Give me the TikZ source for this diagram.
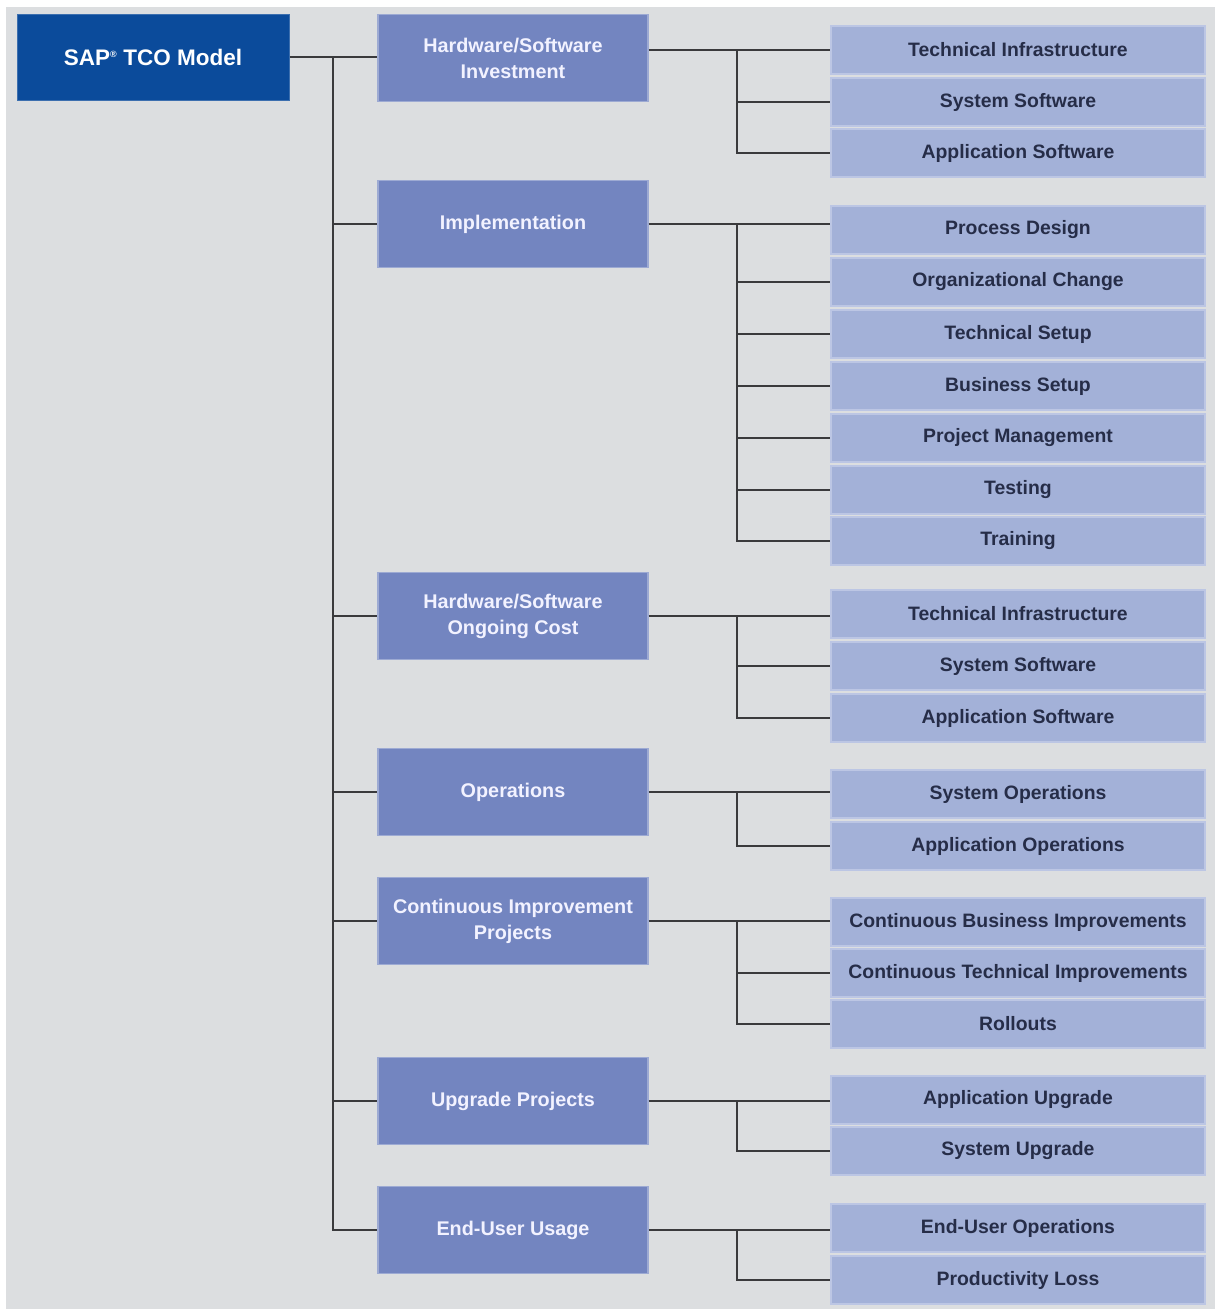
\documentclass[tikz,border=0pt]{standalone}
\usepackage{fontspec}
\setmainfont{Liberation Sans}
\begin{document}
\begin{tikzpicture}[x=1pt,y=-1pt,
  sapbox/.style={fill=sapblue, draw=sapblue!80!white, line width=1pt, minimum width=272pt, minimum height=86pt, inner sep=0pt,
    text=white, font=\fontsize{22.5}{26}\selectfont\bfseries},
  lonebox/.style={fill=lone, draw=lone!70!white, line width=1.2pt, minimum width=270pt, minimum height=87pt, inner sep=0pt,
    text=white!95!blue, align=center, font=\fontsize{19.8}{26}\selectfont\bfseries},
  subbox/.style={fill=subc, draw=subedge, line width=1.5pt, minimum width=374pt, minimum height=48pt, inner sep=0pt,
    text=subtext, font=\fontsize{19.4}{22}\selectfont\bfseries},
  conn/.style={draw=linec, line width=2.4pt}
]
\definecolor{sapblue}{HTML}{0B4B9B}
\definecolor{lone}{HTML}{7385C0}
\definecolor{subc}{HTML}{A3B1D8}
\definecolor{subedge}{HTML}{BCC6E4}
\definecolor{subtext}{HTML}{262D48}
\definecolor{bgc}{HTML}{DCDEE0}
\definecolor{linec}{HTML}{3A3A3C}

\fill[white] (0,0) rectangle (1215,1309);
\fill[bgc] (6,7) rectangle (1215,1309);
\useasboundingbox (0,0) rectangle (1215,1309);

% root
\node[sapbox] (sap) at (153,57) {SAP\textsuperscript{\fontsize{9}{9}\selectfont\textregistered} TCO Model};

% level one
\node[lonebox] (la) at (513,58)  {Hardware/Software\\Investment};
\node[lonebox] (lb) at (513,224) {Implementation};
\node[lonebox] (lc) at (513,616) {Hardware/Software\\Ongoing Cost};
\node[lonebox] (ld) at (513,792) {Operations};
\node[lonebox] (le) at (513,921) {Continuous Improvement\\Projects};
\node[lonebox] (lf) at (513,1101) {Upgrade Projects};
\node[lonebox] (lg) at (513,1230) {End-User Usage};

% sub boxes
\node[subbox] (a1) at (1018,50)  {Technical Infrastructure};
\node[subbox] (a2) at (1018,102) {System Software};
\node[subbox] (a3) at (1018,153) {Application Software};

\node[subbox] (b1) at (1018,230) {Process Design};
\node[subbox] (b2) at (1018,282) {Organizational Change};
\node[subbox] (b3) at (1018,334) {Technical Setup};
\node[subbox] (b4) at (1018,386) {Business Setup};
\node[subbox] (b5) at (1018,438) {Project Management};
\node[subbox] (b6) at (1018,490) {Testing};
\node[subbox] (b7) at (1018,541) {Training};

\node[subbox] (c1) at (1018,614) {Technical Infrastructure};
\node[subbox] (c2) at (1018,666) {System Software};
\node[subbox] (c3) at (1018,718) {Application Software};

\node[subbox] (d1) at (1018,794) {System Operations};
\node[subbox] (d2) at (1018,846) {Application Operations};

\node[subbox] (e1) at (1018,922) {Continuous Business Improvements};
\node[subbox] (e2) at (1018,973) {Continuous Technical Improvements};
\node[subbox] (e3) at (1018,1024) {Rollouts};

\node[subbox] (f1) at (1018,1100) {Application Upgrade};
\node[subbox] (f2) at (1018,1151) {System Upgrade};

\node[subbox] (g1) at (1018,1228) {End-User Operations};
\node[subbox] (g2) at (1018,1280) {Productivity Loss};

% trunk
\coordinate (t) at (333,57);
\draw[conn] (sap.east) -- (sap.east -| la.west);
\draw[conn] (t) |- (lg.west);
\foreach \n in {lb,lc,ld,le,lf}{\draw[conn] (t |- \n.west) -- (\n.west);}

% branches
\coordinate (ba) at (737,50);
\draw[conn] (la.east |- a1.west) -- (a1.west);
\draw[conn] (ba) |- (a3.west);
\draw[conn] (ba |- a2.west) -- (a2.west);

\coordinate (bb) at (737,224);
\draw[conn] (lb.east) -- (lb.east -| b1.west);
\draw[conn] (bb) |- (b7.west);
\foreach \n in {b2,b3,b4,b5,b6}{\draw[conn] (bb |- \n.west) -- (\n.west);}

\coordinate (bc) at (737,616);
\draw[conn] (lc.east) -- (lc.east -| c1.west);
\draw[conn] (bc) |- (c3.west);
\draw[conn] (bc |- c2.west) -- (c2.west);

\coordinate (bd) at (737,792);
\draw[conn] (ld.east) -- (ld.east -| d1.west);
\draw[conn] (bd) |- (d2.west);

\coordinate (be) at (737,921);
\draw[conn] (le.east) -- (le.east -| e1.west);
\draw[conn] (be) |- (e3.west);
\draw[conn] (be |- e2.west) -- (e2.west);

\coordinate (bf) at (737,1101);
\draw[conn] (lf.east) -- (lf.east -| f1.west);
\draw[conn] (bf) |- (f2.west);

\coordinate (bg) at (737,1230);
\draw[conn] (lg.east) -- (lg.east -| g1.west);
\draw[conn] (bg) |- (g2.west);
\end{tikzpicture}
\end{document}
